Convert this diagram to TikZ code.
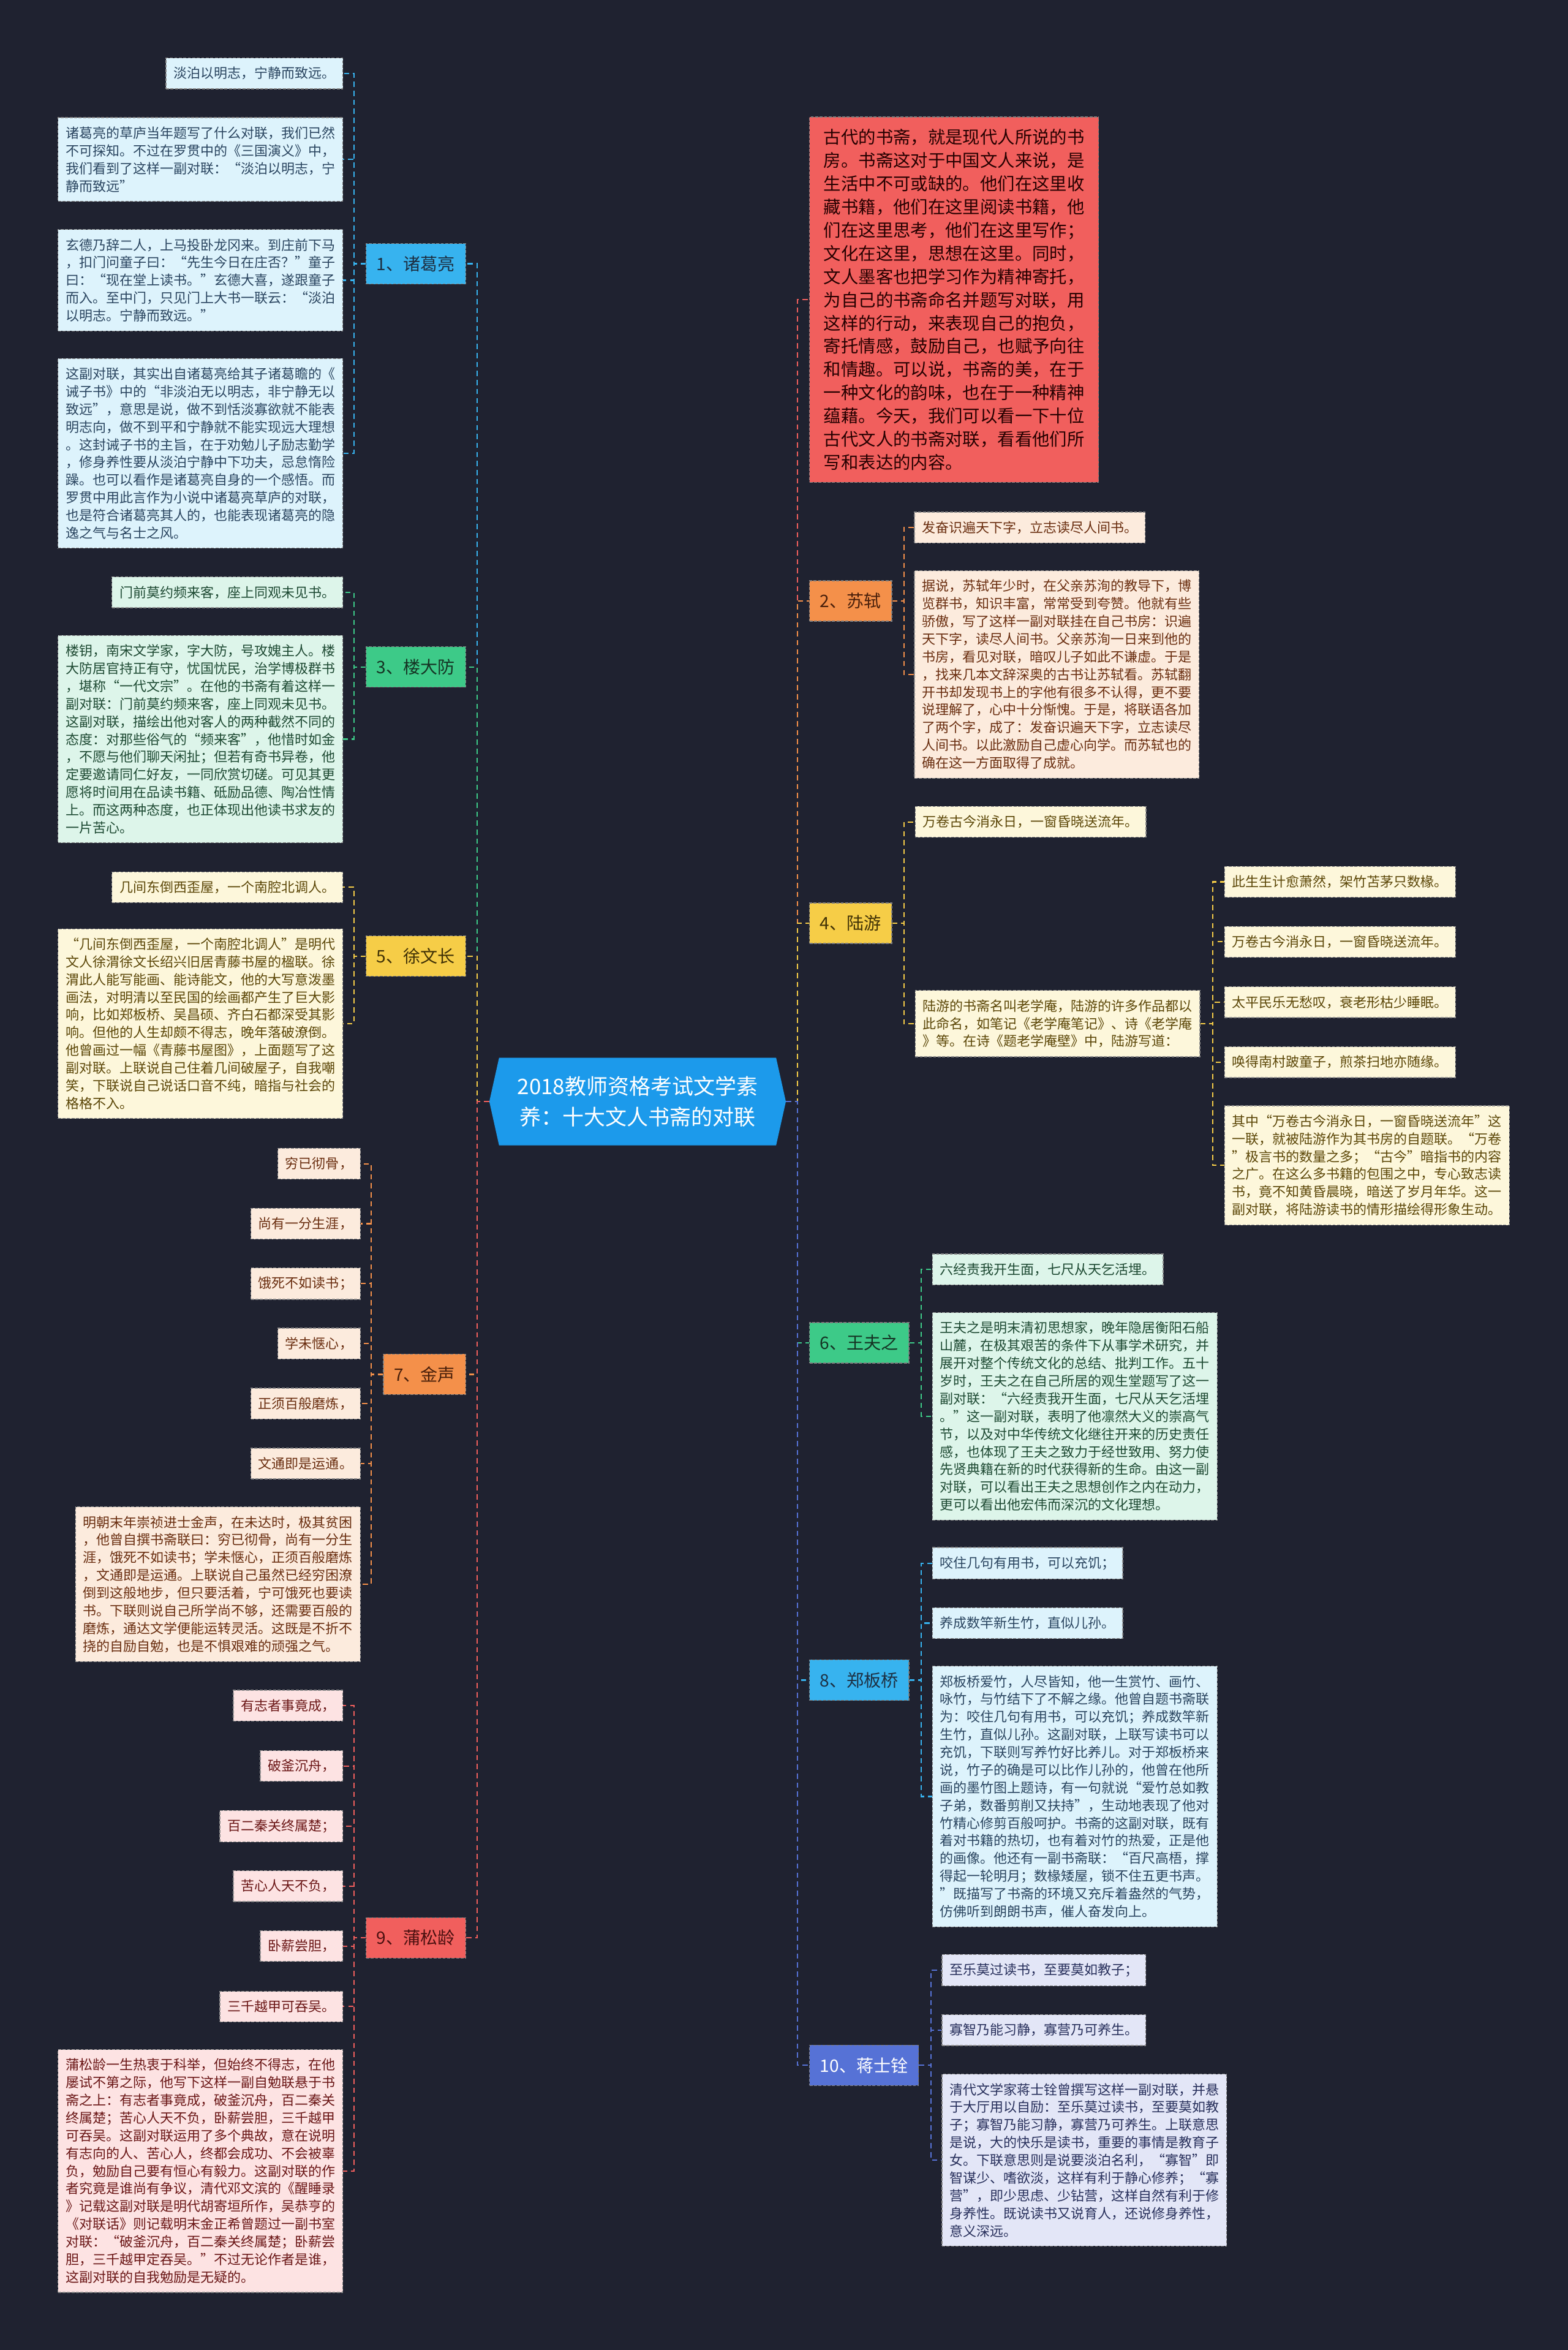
\documentclass[tikz,border=0pt]{standalone}
\usepackage{fontspec}
\setmainfont{Noto Sans CJK SC}
\usetikzlibrary{backgrounds}

\definecolor{bgdark}{HTML}{1F2230}
\definecolor{rootblue}{HTML}{1C9AEB}
\definecolor{skyC}{HTML}{37B3EF}\definecolor{skyL}{HTML}{DDF3FC}\definecolor{skyT}{HTML}{2A4560}
\definecolor{greenC}{HTML}{3DCA88}\definecolor{greenL}{HTML}{DDF5EA}\definecolor{greenT}{HTML}{1E4A33}
\definecolor{yellowC}{HTML}{F6CD47}\definecolor{yellowL}{HTML}{FDF7DB}\definecolor{yellowT}{HTML}{5C4708}
\definecolor{orangeC}{HTML}{F4904A}\definecolor{orangeL}{HTML}{FCEBDD}\definecolor{orangeT}{HTML}{6A2E10}
\definecolor{redC}{HTML}{F15F5D}\definecolor{redL}{HTML}{FDE3E3}\definecolor{redT}{HTML}{6B1717}
\definecolor{indigoC}{HTML}{5672D6}\definecolor{indigoL}{HTML}{E3E6F7}\definecolor{indigoT}{HTML}{28305C}

\tikzset{
  leaf/.style={rectangle, draw=black!45, line width=0.5pt, dash pattern=on 2pt off 1pt,
    inner xsep=5pt, inner ysep=6pt, align=left, font=\fontsize{9}{11.8}\selectfont},
  longleaf/.style={leaf, text width=180pt},
  branch/.style={rectangle, draw=black!50, line width=0.5pt, dash pattern=on 2pt off 1pt,
    inner xsep=7pt, minimum height=27pt, font=\fontsize{11.5}{13}\selectfont},
  link/.style={line width=0.9pt, dash pattern=on 3.5pt off 2.5pt},
  skyleaf/.style={leaf, fill=skyL, text=skyT}, skylong/.style={longleaf, fill=skyL, text=skyT},
  skylab/.style={branch, fill=skyC, text=skyT!70!black},
  greenleaf/.style={leaf, fill=greenL, text=greenT}, greenlong/.style={longleaf, fill=greenL, text=greenT},
  greenlab/.style={branch, fill=greenC, text=greenT!70!black},
  yellowleaf/.style={leaf, fill=yellowL, text=yellowT}, yellowlong/.style={longleaf, fill=yellowL, text=yellowT},
  yellowlab/.style={branch, fill=yellowC, text=yellowT!70!black},
  orangeleaf/.style={leaf, fill=orangeL, text=orangeT}, orangelong/.style={longleaf, fill=orangeL, text=orangeT},
  orangelab/.style={branch, fill=orangeC, text=orangeT!70!black},
  redleaf/.style={leaf, fill=redL, text=redT}, redlong/.style={longleaf, fill=redL, text=redT},
  redlab/.style={branch, fill=redC, text=redT!70!black},
  indigoleaf/.style={leaf, fill=indigoL, text=indigoT}, indigolong/.style={longleaf, fill=indigoL, text=indigoT},
  indigolab/.style={branch, fill=indigoC, text=white},
  intro/.style={rectangle, fill=redC, draw=black!50, line width=0.5pt, dash pattern=on 2pt off 1pt,
    inner xsep=9.5pt, inner ysep=8pt, text width=174pt, align=left, text=black!85!red,
    font=\fontsize{11.6}{15.5}\selectfont},
  root/.style={rectangle, minimum width=184.5pt, minimum height=58pt, inner sep=0pt,
    align=center, text=white, font=\fontsize{14.3}{20.4}\selectfont}
}

\begin{document}
\begin{tikzpicture}[x=1pt,y=-1pt]
  \useasboundingbox (0,0) rectangle (1046.4,1568);
  % root
  \node[root] (root) at (425.5,735) {2018教师资格考试文学素\\养：十大文人书斋的对联};
  \coordinate (rootL) at ([xshift=-6.5pt]root.west);
  \coordinate (rootR) at ([xshift=6.5pt]root.east);
  \begin{scope}[on background layer]
    \fill[bgdark] (0,0) rectangle (1046.4,1568);
    \fill[rootblue] (rootL) -- (root.north west) -- (root.north east) -- (rootR)
      -- (root.south east) -- (root.south west) -- cycle;
  \end{scope}

  % 1 诸葛亮
  \node[skylab, anchor=east] (L1) at (311,176) {1、诸葛亮};
  \node[skyleaf, anchor=east] (z1a) at (229,49) {淡泊以明志，宁静而致远。};
  \node[skylong, anchor=east] (z1b) at (229,106.4) {诸葛亮的草庐当年题写了什么对联，我们已然\\
不可探知。不过在罗贯中的《三国演义》中，\\
我们看到了这样一副对联：“淡泊以明志，宁\\
静而致远”};
  \node[skylong, anchor=east] (z1c) at (229,187) {玄德乃辞二人，上马投卧龙冈来。到庄前下马\\
，扣门问童子曰：“先生今日在庄否？”童子\\
曰：“现在堂上读书。”玄德大喜，遂跟童子\\
而入。至中门，只见门上大书一联云：“淡泊\\
以明志。宁静而致远。”};
  \node[skylong, anchor=east] (z1d) at (229,302.5) {这副对联，其实出自诸葛亮给其子诸葛瞻的《\\
诫子书》中的“非淡泊无以明志，非宁静无以\\
致远”，意思是说，做不到恬淡寡欲就不能表\\
明志向，做不到平和宁静就不能实现远大理想\\
。这封诫子书的主旨，在于劝勉儿子励志勤学\\
，修身养性要从淡泊宁静中下功夫，忌怠惰险\\
躁。也可以看作是诸葛亮自身的一个感悟。而\\
罗贯中用此言作为小说中诸葛亮草庐的对联，\\
也是符合诸葛亮其人的，也能表现诸葛亮的隐\\
逸之气与名士之风。};

  % 3 楼大防
  \node[greenlab, anchor=east] (L3) at (311,445) {3、楼大防};
  \node[greenleaf, anchor=east] (l3a) at (229,395.2) {门前莫约频来客，座上同观未见书。};
  \node[greenlong, anchor=east] (l3b) at (229,493.2) {楼钥，南宋文学家，字大防，号攻媿主人。楼\\
大防居官持正有守，忧国忧民，治学博极群书\\
，堪称“一代文宗”。在他的书斋有着这样一\\
副对联：门前莫约频来客，座上同观未见书。\\
这副对联，描绘出他对客人的两种截然不同的\\
态度：对那些俗气的“频来客”，他惜时如金\\
，不愿与他们聊天闲扯；但若有奇书异卷，他\\
定要邀请同仁好友，一同欣赏切磋。可见其更\\
愿将时间用在品读书籍、砥励品德、陶冶性情\\
上。而这两种态度，也正体现出他读书求友的\\
一片苦心。};

  % 5 徐文长
  \node[yellowlab, anchor=east] (L5) at (311,638) {5、徐文长};
  \node[yellowleaf, anchor=east] (x5a) at (229,592) {几间东倒西歪屋，一个南腔北调人。};
  \node[yellowlong, anchor=east] (x5b) at (229,683) {“几间东倒西歪屋，一个南腔北调人”是明代\\
文人徐渭徐文长绍兴旧居青藤书屋的楹联。徐\\
渭此人能写能画、能诗能文，他的大写意泼墨\\
画法，对明清以至民国的绘画都产生了巨大影\\
响，比如郑板桥、吴昌硕、齐白石都深受其影\\
响。但他的人生却颇不得志，晚年落破潦倒。\\
他曾画过一幅《青藤书屋图》，上面题写了这\\
副对联。上联说自己住着几间破屋子，自我嘲\\
笑，下联说自己说话口音不纯，暗指与社会的\\
格格不入。};

  % 7 金声
  \node[orangelab, anchor=east] (L7) at (311,917) {7、金声};
  \node[orangeleaf, anchor=east] (j7a) at (240.7,776.5) {穷已彻骨，};
  \node[orangeleaf, anchor=east] (j7b) at (240.7,816.5) {尚有一分生涯，};
  \node[orangeleaf, anchor=east] (j7c) at (240.7,856.5) {饿死不如读书；};
  \node[orangeleaf, anchor=east] (j7d) at (240.7,896.5) {学未惬心，};
  \node[orangeleaf, anchor=east] (j7e) at (240.7,936.5) {正须百般磨炼，};
  \node[orangeleaf, anchor=east] (j7f) at (240.7,976.5) {文通即是运通。};
  \node[orangelong, anchor=east] (j7g) at (240.7,1057) {明朝末年崇祯进士金声，在未达时，极其贫困\\
，他曾自撰书斋联曰：穷已彻骨，尚有一分生\\
涯，饿死不如读书；学未惬心，正须百般磨炼\\
，文通即是运通。上联说自己虽然已经穷困潦\\
倒到这般地步，但只要活着，宁可饿死也要读\\
书。下联则说自己所学尚不够，还需要百般的\\
磨炼，通达文学便能运转灵活。这既是不折不\\
挠的自励自勉，也是不惧艰难的顽强之气。};

  % 9 蒲松龄
  \node[redlab, anchor=east] (L9) at (311,1293) {9、蒲松龄};
  \node[redleaf, anchor=east] (p9a) at (229,1138) {有志者事竟成，};
  \node[redleaf, anchor=east] (p9b) at (229,1178.3) {破釜沉舟，};
  \node[redleaf, anchor=east] (p9c) at (229,1218.5) {百二秦关终属楚；};
  \node[redleaf, anchor=east] (p9d) at (229,1258.5) {苦心人天不负，};
  \node[redleaf, anchor=east] (p9e) at (229,1298.5) {卧薪尝胆，};
  \node[redleaf, anchor=east] (p9f) at (229,1338.8) {三千越甲可吞吴。};
  \node[redlong, anchor=east] (p9g) at (229,1448.5) {蒲松龄一生热衷于科举，但始终不得志，在他\\
屡试不第之际，他写下这样一副自勉联悬于书\\
斋之上：有志者事竟成，破釜沉舟，百二秦关\\
终属楚；苦心人天不负，卧薪尝胆，三千越甲\\
可吞吴。这副对联运用了多个典故，意在说明\\
有志向的人、苦心人，终都会成功、不会被辜\\
负，勉励自己要有恒心有毅力。这副对联的作\\
者究竟是谁尚有争议，清代邓文滨的《醒睡录\\
》记载这副对联是明代胡寄垣所作，吴恭亨的\\
《对联话》则记载明末金正希曾题过一副书室\\
对联：“破釜沉舟，百二秦关终属楚；卧薪尝\\
胆，三千越甲定吞吴。”不过无论作者是谁，\\
这副对联的自我勉励是无疑的。};

  % intro
  \node[intro, anchor=west] (intro) at (540,200) {古代的书斋，就是现代人所说的书\\
房。书斋这对于中国文人来说，是\\
生活中不可或缺的。他们在这里收\\
藏书籍，他们在这里阅读书籍，他\\
们在这里思考，他们在这里写作；\\
文化在这里，思想在这里。同时，\\
文人墨客也把学习作为精神寄托，\\
为自己的书斋命名并题写对联，用\\
这样的行动，来表现自己的抱负，\\
寄托情感，鼓励自己，也赋予向往\\
和情趣。可以说，书斋的美，在于\\
一种文化的韵味，也在于一种精神\\
蕴藉。今天，我们可以看一下十位\\
古代文人的书斋对联，看看他们所\\
写和表达的内容。};

  % 2 苏轼
  \node[orangelab, anchor=west] (R2) at (540,401) {2、苏轼};
  \node[orangeleaf, anchor=west] (s2a) at (610,352) {发奋识遍天下字，立志读尽人间书。};
  \node[orangelong, anchor=west] (s2b) at (610,450) {据说，苏轼年少时，在父亲苏洵的教导下，博\\
览群书，知识丰富，常常受到夸赞。他就有些\\
骄傲，写了这样一副对联挂在自己书房：识遍\\
天下字，读尽人间书。父亲苏洵一日来到他的\\
书房，看见对联，暗叹儿子如此不谦虚。于是\\
，找来几本文辞深奥的古书让苏轼看。苏轼翻\\
开书却发现书上的字他有很多不认得，更不要\\
说理解了，心中十分惭愧。于是，将联语各加\\
了两个字，成了：发奋识遍天下字，立志读尽\\
人间书。以此激励自己虚心向学。而苏轼也的\\
确在这一方面取得了成就。};

  % 4 陆游
  \node[yellowlab, anchor=west] (R4) at (540,616) {4、陆游};
  \node[yellowleaf, anchor=west] (u4a) at (610.5,548.4) {万卷古今消永日，一窗昏晓送流年。};
  \node[yellowlong, anchor=west] (u4b) at (610.5,683) {陆游的书斋名叫老学庵，陆游的许多作品都以\\
此命名，如笔记《老学庵笔记》、诗《老学庵\\
》等。在诗《题老学庵壁》中，陆游写道：};
  \node[yellowleaf, anchor=west] (u4c1) at (817,588.4) {此生生计愈萧然，架竹苫茅只数椽。};
  \node[yellowleaf, anchor=west] (u4c2) at (817,628.4) {万卷古今消永日，一窗昏晓送流年。};
  \node[yellowleaf, anchor=west] (u4c3) at (817,668.7) {太平民乐无愁叹，衰老形枯少睡眠。};
  \node[yellowleaf, anchor=west] (u4c4) at (817,708.7) {唤得南村跛童子，煎茶扫地亦随缘。};
  \node[yellowlong, anchor=west] (u4c5) at (817,777.6) {其中“万卷古今消永日，一窗昏晓送流年”这\\
一联，就被陆游作为其书房的自题联。“万卷\\
”极言书的数量之多；“古今”暗指书的内容\\
之广。在这么多书籍的包围之中，专心致志读\\
书，竟不知黄昏晨晓，暗送了岁月年华。这一\\
副对联，将陆游读书的情形描绘得形象生动。};

  % 6 王夫之
  \node[greenlab, anchor=west] (R6) at (540,896) {6、王夫之};
  \node[greenleaf, anchor=west] (w6a) at (622,847) {六经责我开生面，七尺从天乞活埋。};
  \node[greenlong, anchor=west] (w6b) at (622,945) {王夫之是明末清初思想家，晚年隐居衡阳石船\\
山麓，在极其艰苦的条件下从事学术研究，并\\
展开对整个传统文化的总结、批判工作。五十\\
岁时，王夫之在自己所居的观生堂题写了这一\\
副对联：“六经责我开生面，七尺从天乞活埋\\
。”这一副对联，表明了他凛然大义的崇高气\\
节，以及对中华传统文化继往开来的历史责任\\
感，也体现了王夫之致力于经世致用、努力使\\
先贤典籍在新的时代获得新的生命。由这一副\\
对联，可以看出王夫之思想创作之内在动力，\\
更可以看出他宏伟而深沉的文化理想。};

  % 8 郑板桥
  \node[skylab, anchor=west] (R8) at (540,1121) {8、郑板桥};
  \node[skyleaf, anchor=west] (z8a) at (622,1043) {咬住几句有用书，可以充饥；};
  \node[skyleaf, anchor=west] (z8b) at (622,1083) {养成数竿新生竹，直似儿孙。};
  \node[skylong, anchor=west] (z8c) at (622,1198.7) {郑板桥爱竹，人尽皆知，他一生赏竹、画竹、\\
咏竹，与竹结下了不解之缘。他曾自题书斋联\\
为：咬住几句有用书，可以充饥；养成数竿新\\
生竹，直似儿孙。这副对联，上联写读书可以\\
充饥，下联则写养竹好比养儿。对于郑板桥来\\
说，竹子的确是可以比作儿孙的，他曾在他所\\
画的墨竹图上题诗，有一句就说“爱竹总如教\\
子弟，数番剪削又扶持”，生动地表现了他对\\
竹精心修剪百般呵护。书斋的这副对联，既有\\
着对书籍的热切，也有着对竹的热爱，正是他\\
的画像。他还有一副书斋联：“百尺高梧，撑\\
得起一轮明月；数椽矮屋，锁不住五更书声。\\
”既描写了书斋的环境又充斥着盎然的气势，\\
仿佛听到朗朗书声，催人奋发向上。};

  % 10 蒋士铨
  \node[indigolab, anchor=west] (R10) at (540,1378) {10、蒋士铨};
  \node[indigoleaf, anchor=west] (j10a) at (628.4,1314.6) {至乐莫过读书，至要莫如教子；};
  \node[indigoleaf, anchor=west] (j10b) at (628.4,1354.5) {寡智乃能习静，寡营乃可养生。};
  \node[indigolong, anchor=west] (j10c) at (628.4,1441.3) {清代文学家蒋士铨曾撰写这样一副对联，并悬\\
于大厅用以自励：至乐莫过读书，至要莫如教\\
子；寡智乃能习静，寡营乃可养生。上联意思\\
是说，大的快乐是读书，重要的事情是教育子\\
女。下联意思则是说要淡泊名利，“寡智”即\\
智谋少、嗜欲淡，这样有利于静心修养；“寡\\
营”，即少思虑、少钻营，这样自然有利于修\\
身养性。既说读书又说育人，还说修身养性，\\
意义深远。};

  % spine
  \draw[link,skyC] (rootL) -- ++(-8,0) |- (L1.east);
  \draw[link,greenC] (rootL) -- ++(-8,0) |- (L3.east);
  \draw[link,yellowC] (rootL) -- ++(-8,0) |- (L5.east);
  \draw[link,orangeC] (rootL) -- ++(-8,0) |- (L7.east);
  \draw[link,redC] (rootL) -- ++(-8,0) |- (L9.east);
  \draw[link,redC] (rootR) -- ++(7.6,0) |- (intro.west);
  \draw[link,orangeC] (rootR) -- ++(7.6,0) |- (R2.west);
  \draw[link,yellowC] (rootR) -- ++(7.6,0) |- (R4.west);
  \draw[link,greenC] (rootR) -- ++(7.6,0) |- (R6.west);
  \draw[link,skyC] (rootR) -- ++(7.6,0) |- (R8.west);
  \draw[link,indigoC] (rootR) -- ++(7.6,0) |- (R10.west);

  % leaves, left
  \draw[link,skyC] (L1.west) -- ++(-8,0) |- (z1a.east) (L1.west) -- ++(-8,0) |- (z1b.east)
    (L1.west) -- ++(-8,0) |- (z1c.east) (L1.west) -- ++(-8,0) |- (z1d.east);
  \draw[link,greenC] (L3.west) -- ++(-8,0) |- (l3a.east) (L3.west) -- ++(-8,0) |- (l3b.east);
  \draw[link,yellowC] (L5.west) -- ++(-8,0) |- (x5a.east) (L5.west) -- ++(-8,0) |- (x5b.east);
  \draw[link,orangeC] (L7.west) -- ++(-8,0) |- (j7a.east) (L7.west) -- ++(-8,0) |- (j7b.east)
    (L7.west) -- ++(-8,0) |- (j7c.east) (L7.west) -- ++(-8,0) |- (j7d.east)
    (L7.west) -- ++(-8,0) |- (j7e.east) (L7.west) -- ++(-8,0) |- (j7f.east)
    (L7.west) -- ++(-8,0) |- (j7g.east);
  \draw[link,redC] (L9.west) -- ++(-8,0) |- (p9a.east) (L9.west) -- ++(-8,0) |- (p9b.east)
    (L9.west) -- ++(-8,0) |- (p9c.east) (L9.west) -- ++(-8,0) |- (p9d.east)
    (L9.west) -- ++(-8,0) |- (p9e.east) (L9.west) -- ++(-8,0) |- (p9f.east)
    (L9.west) -- ++(-8,0) |- (p9g.east);

  % leaves, right
  \draw[link,orangeC] (R2.east) -- ++(8,0) |- (s2a.west) (R2.east) -- ++(8,0) |- (s2b.west);
  \draw[link,yellowC] (R4.east) -- ++(8,0) |- (u4a.west) (R4.east) -- ++(8,0) |- (u4b.west);
  \draw[link,yellowC] (u4b.east) -- ++(8.3,0) |- (u4c1.west) (u4b.east) -- ++(8.3,0) |- (u4c2.west)
    (u4b.east) -- ++(8.3,0) |- (u4c3.west) (u4b.east) -- ++(8.3,0) |- (u4c4.west)
    (u4b.east) -- ++(8.3,0) |- (u4c5.west);
  \draw[link,greenC] (R6.east) -- ++(8,0) |- (w6a.west) (R6.east) -- ++(8,0) |- (w6b.west);
  \draw[link,skyC] (R8.east) -- ++(8,0) |- (z8a.west) (R8.east) -- ++(8,0) |- (z8b.west)
    (R8.east) -- ++(8,0) |- (z8c.west);
  \draw[link,indigoC] (R10.east) -- ++(8,0) |- (j10a.west) (R10.east) -- ++(8,0) |- (j10b.west)
    (R10.east) -- ++(8,0) |- (j10c.west);
\end{tikzpicture}
\end{document}
